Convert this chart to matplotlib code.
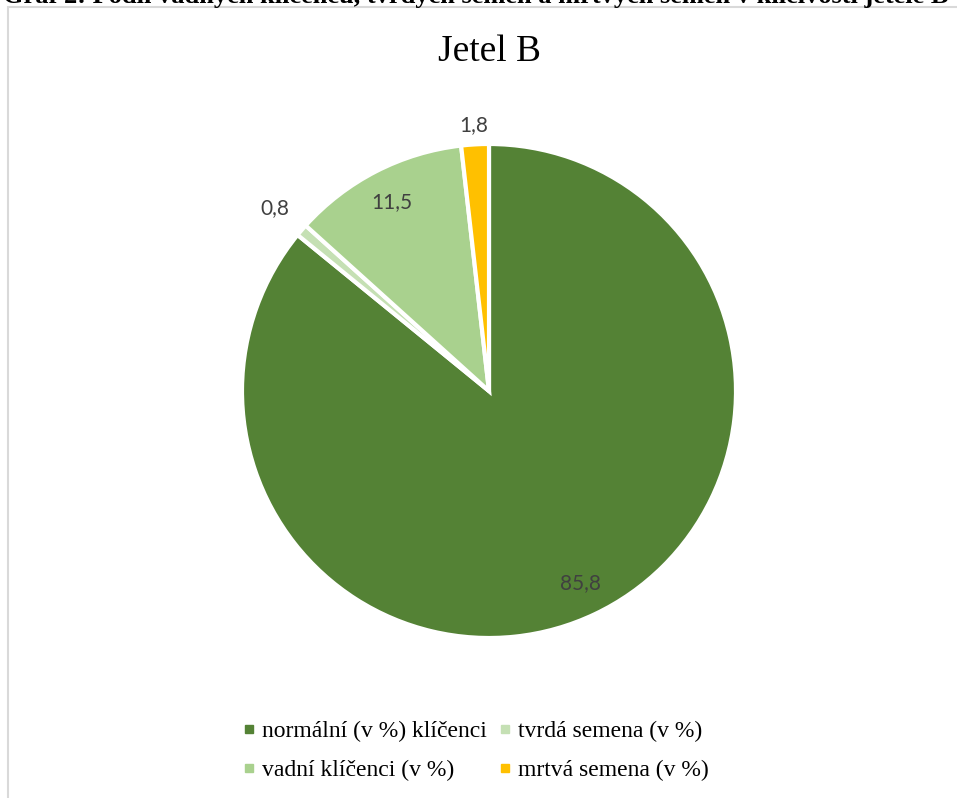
import numpy as np
import matplotlib.pyplot as plt
from matplotlib.patches import Rectangle
from matplotlib.lines import Line2D

# data
categories = ['normální (v %) klíčenci', 'tvrdá semena (v %)',
              'vadní klíčenci (v %)', 'mrtvá semena (v %)']
values = [85.8, 0.8, 11.5, 1.8]
value_labels = ['85,8', '0,8', '11,5', '1,8']
colors = ['#548235', '#C5E0B4', '#A9D18E', '#FFC000']
label_dist = [0.86, 1.14, 0.86, 1.08]

W, H = 957, 798
fig = plt.figure(figsize=(W / 100, H / 100), dpi=100)
ax = fig.add_axes([0, 0, 1, 1])

# chart area border (cut at right/bottom as in the document)
fig.patches.append(Rectangle((8 / W, -0.05), 1.1, 1 - 7 / H + 0.05,
                             transform=fig.transFigure, fill=False,
                             edgecolor='#D9D9D9', lw=1.5))

# document caption above the chart, mostly cut off in the screenshot
fig.text(0.003, 1 - 3 / H, 'Graf 2: Podíl vadných klíčenců, tvrdých semen a mrtvých semen v klíčivosti jetele B',
         fontsize=19, fontweight='bold', family='Liberation Serif', va='baseline', ha='left')

cx, cy, r = 489, H - 391, 247
wedges, _ = ax.pie(values, colors=colors, startangle=90, counterclock=False,
                   center=(cx, cy), radius=r, frame=True,
                   wedgeprops=dict(edgecolor='white', linewidth=3))
ax.set_xlim(0, W)
ax.set_ylim(0, H)
ax.set_aspect('equal')
ax.axis('off')

for w, lab, d in zip(wedges, value_labels, label_dist):
    ang = np.deg2rad((w.theta1 + w.theta2) / 2)
    ax.text(cx + d * r * np.cos(ang), cy + d * r * np.sin(ang), lab,
            ha='center', va='center', fontsize=15, color='#404040', family='Lato')

ax.text(cx, H - 52, 'Jetel B', ha='center', va='center', fontsize=27,
        family='Liberation Serif', color='black')

handles = [Line2D([], [], marker='s', ls='none', markersize=6,
                  markerfacecolor=c, markeredgecolor=c) for c in colors]
order = [0, 2, 1, 3]
fig.legend([handles[i] for i in order], [categories[i] for i in order],
           ncol=2, loc='center', bbox_to_anchor=(476 / W, 1 - 751 / H),
           frameon=False, prop={'family': 'Liberation Serif', 'size': 17},
           handlelength=0.5, handletextpad=0.3, columnspacing=0.55,
           labelspacing=0.72)

fig.savefig('out.png', dpi=100)
